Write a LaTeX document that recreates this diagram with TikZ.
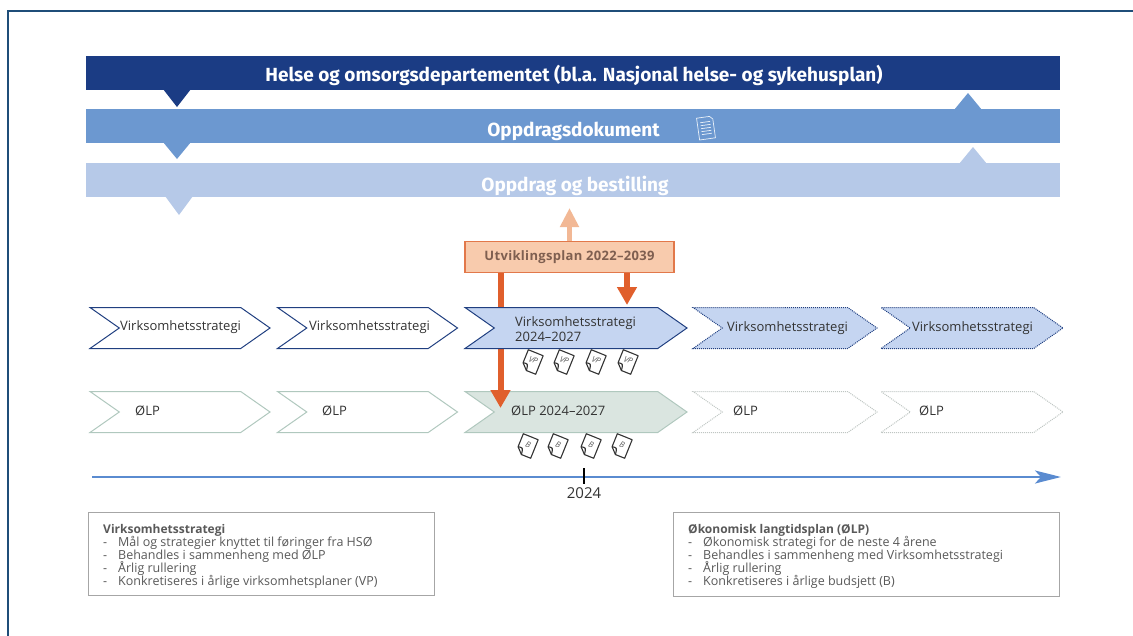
\documentclass[tikz,border=0pt]{standalone}
\usepackage{fontspec}
\setmainfont{Open Sans}
\newfontfamily\bandfont{Fira Sans}
\usepackage{tikz}
\usetikzlibrary{shapes.symbols,arrows.meta}
\definecolor{frame}{HTML}{1F4E79}
\definecolor{navy}{HTML}{1B3C84}
\definecolor{midblue}{HTML}{6C98D0}
\definecolor{paleblue}{HTML}{B6C9E8}
\definecolor{chevline}{HTML}{203F80}
\definecolor{chevfill}{HTML}{C5D5F1}
\definecolor{greenline}{HTML}{B0C8BE}
\definecolor{greenfill}{HTML}{DAE5E0}
\definecolor{dotgrey}{HTML}{BFC6C3}
\definecolor{plancolor}{HTML}{E05F2C}
\definecolor{peach}{HTML}{F8CBAD}
\definecolor{peachline}{HTML}{E2784A}
\definecolor{peachtext}{HTML}{7F5F50}
\definecolor{lightorange}{HTML}{F2B895}
\definecolor{timeline}{HTML}{5A8BD0}
\definecolor{boxline}{HTML}{A6A6A6}
\definecolor{greytext}{HTML}{595959}
\definecolor{darktext}{HTML}{333333}
\newcommand{\tightlines}{\lineskiplimit=-20pt\relax}
\tikzset{
  band/.style={rectangle, minimum width=974pt, minimum height=34pt, inner sep=0pt},
  bandtxt/.style={text=white, inner sep=0pt, font=\bandfont\bfseries\fontsize{19}{21}\selectfont},
  chev/.style={signal, signal from=west, signal to=east, signal pointer angle=70, minimum height=41pt, inner sep=0pt, line width=1pt},
  vschev/.style={chev, draw=chevline, fill=white},
  olpchev/.style={chev, draw=greenline, fill=white},
  dotchev/.style={chev, densely dotted},
  chevtxt/.style={text=darktext, font=\fontsize{13}{15}\selectfont, inner sep=0pt, anchor=west, align=left},
  doc/.style={draw=darktext, fill=white, line width=1.1pt, line join=round},
  doctxt/.style={text=greytext, font=\itshape\fontsize{8}{8}\selectfont, inner sep=0pt, transform shape},
  planbox/.style={draw=peachline, fill=peach, line width=1.4pt, minimum width=209pt, minimum height=31pt, inner sep=0pt, text=peachtext, font=\bfseries\fontsize{13}{15}\selectfont\addfontfeatures{LetterSpace=2.5}},
  planarrow/.style={draw=plancolor, line width=6pt, -{Triangle[width=19pt,length=18pt]}},
  infobox/.style={draw=boxline, fill=white, line width=0.8pt, anchor=north west, inner sep=0pt},
  infotxt/.style={text=greytext, align=left, anchor=north west, inner sep=0pt, font=\fontsize{12.5}{12.8}\selectfont\tightlines}
}
\newcommand{\dash}[1]{\makebox[15pt][l]{-}#1}

\begin{document}
\begin{tikzpicture}[x=1pt, y=-1pt]
\useasboundingbox (0,0) rectangle (1133,635);
% frame
\draw[frame, line width=2pt] (8,650) -- (8,11) -- (1145,11);

% bands
\node[band, fill=navy] (hod) at (573,72.5) {};
\node[band, fill=midblue] (oppdok) at (573,126) {};
\node[band, fill=paleblue] (oppbest) at (573,180) {};
\node[bandtxt] (hodt) at (574,75.5) {Helse og omsorgsdepartementet (bl.a. Nasjonal helse- og sykehusplan)};
\node[bandtxt] (oppdokt) at (573.5,131) {Oppdragsdokument};
\node[bandtxt] (oppbestt) at (575,185.5) {Oppdrag og bestilling};
\fill[navy] (163,89) -- (191,89) -- (177,107) -- cycle;
\fill[midblue] (163,142) -- (191,142) -- (177,159) -- cycle;
\fill[paleblue] (165,196) -- (193,196) -- (179,215) -- cycle;
\fill[midblue] (954,110) -- (982,110) -- (968,93) -- cycle;
\fill[paleblue] (959,164) -- (987,164) -- (973,147) -- cycle;

% document icon
\begin{scope}[shift={(706,128)}, rotate=8, draw=white!85!midblue, line width=0.7pt]
  \draw (-8,-11) -- (5,-11) -- (8,-8) -- (8,11) -- (-8,11) -- cycle;
  \foreach \v in {-6,-3,0,3,6}
    \draw (-5,\v) -- (5,\v);
\end{scope}

% utviklingsplan
\node[planbox] (uplan) at (569.5,257) {Utviklingsplan 2022–2039};
\coordinate (uptip) at (569.5,208);
\draw[draw=lightorange, line width=5pt, -{Triangle[width=18pt,length=19pt]}] (uplan.north) -- (uptip);

% oekonomisk langtidsplan
\node[olpchev, minimum width=180pt] (olp1) at (180,412) {};
\node[olpchev, minimum width=180pt] (olp2) at (367.5,412) {};
\node[olpchev, fill=greenfill, minimum width=222pt] (olp3) at (576,412) {};
\node[dotchev, draw=dotgrey, fill=white, minimum width=184pt] (olp4) at (785,412) {};
\node[dotchev, draw=dotgrey, fill=white, minimum width=182pt] (olp5) at (972,412) {};
\node[chevtxt] (olp1t) at (135,411) {ØLP};
\node[chevtxt] (olp2t) at (322,411) {ØLP};
\node[chevtxt] (olp3t) at (511,411) {ØLP 2024–2027};
\node[chevtxt] (olp4t) at (733,411) {ØLP};
\node[chevtxt] (olp5t) at (919,411) {ØLP};

\coordinate (olptip) at (500.5,408);
\draw[planarrow] (uplan.south -| olptip) -- (olptip);

% virksomhetsstrategi
\node[vschev, minimum width=180pt] (vs1) at (180,328) {};
\node[vschev, minimum width=180pt] (vs2) at (367.5,328) {};
\node[vschev, fill=chevfill, minimum width=222pt] (vs3) at (576,328) {};
\node[dotchev, draw=chevline, fill=chevfill, minimum width=184pt] (vs4) at (785,328) {};
\node[dotchev, draw=chevline, fill=chevfill, minimum width=182pt] (vs5) at (972,328) {};
\node[chevtxt] (vs1t) at (120,327) {Virksomhetsstrategi};
\node[chevtxt] (vs2t) at (309,327) {Virksomhetsstrategi};
\node[chevtxt] (vs3t) at (515,329) {Virksomhetsstrategi\\2024–2027};
\node[chevtxt] (vs4t) at (727,328) {Virksomhetsstrategi};
\node[chevtxt] (vs5t) at (912,328) {Virksomhetsstrategi};

\coordinate (vstip) at (627,305);
\draw[planarrow] (uplan.south -| vstip) -- (vstip);

% plans and budgets
\foreach \x/\lbl/\y in {532/VP/362,563/VP/362,595/VP/362,627/VP/362,
                        527/B/446,557/B/446,590/B/446,621/B/446}{
  \begin{scope}[shift={(\x,\y)}, rotate=-22]
    \draw[doc] (-8,-10) -- (8,-10) -- (8,10) -- (-2,10) -- (-8,4) -- cycle;
    \draw[doc, fill=none] (-8,4) .. controls (-3,3) .. (-2,10);
    \node[doctxt] at (0.5,-2) {\lbl};
  \end{scope}
}

% timeline
\coordinate (tlstart) at (92,477);
\coordinate (tlend) at (1061,477);
\draw[timeline, line width=2.6pt, -{Stealth[length=26pt,width=13pt,inset=6pt]}] (tlstart) -- (tlend);
\draw[black, line width=1.2pt] (584,468) -- (584,484);
\node[font=\fontsize{15}{16}\selectfont, text=darktext] (year) at (584,493) {2024};

% info boxes
\node[infobox, minimum width=346pt, minimum height=83pt] (vsbox) at (88,512) {};
\node[infotxt] (vsinfo) at (103,524.5) {{\bfseries\fontsize{12}{12.8}\selectfont Virksomhetsstrategi}\\
  \dash{Mål og strategier knyttet til føringer fra HSØ}\\
  \dash{Behandles i sammenheng med ØLP}\\
  \dash{Årlig rullering}\\
  \dash{Konkretiseres i årlige virksomhetsplaner (VP)}};
\node[infobox, minimum width=386pt, minimum height=84pt] (olpbox) at (673,512) {};
\node[infotxt] (olpinfo) at (688,524.5) {{\bfseries\fontsize{12}{12.8}\selectfont Økonomisk langtidsplan (ØLP)}\\
  \dash{Økonomisk strategi for de neste 4 årene}\\
  \dash{Behandles i sammenheng med Virksomhetsstrategi}\\
  \dash{Årlig rullering}\\
  \dash{Konkretiseres i årlige budsjett (B)}};
\end{tikzpicture}
\end{document}
